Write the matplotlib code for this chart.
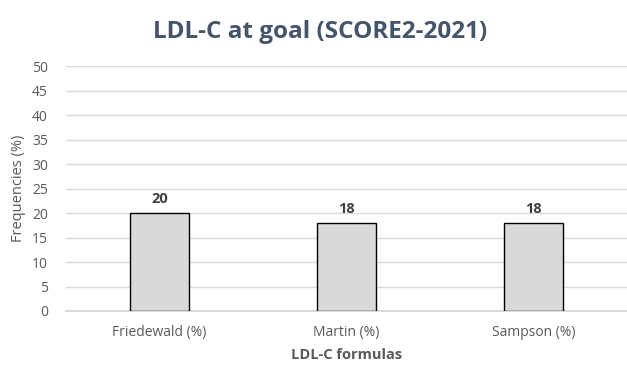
import matplotlib
matplotlib.use("Agg")
import matplotlib.pyplot as plt
import numpy as np

# data
formulas = ["Friedewald (%)", "Martin (%)", "Sampson (%)"]
freqs = [20, 18, 18]
yticks = [0, 5, 10, 15, 20, 25, 30, 35, 40, 45, 50]

plt.rcParams['font.family'] = ['Open Sans', 'DejaVu Sans']

fig = plt.figure(figsize=(6.27, 3.66), dpi=100)
ax = fig.add_axes([66 / 627, 1 - 311 / 366, 561 / 627, 245 / 366])

x = np.arange(len(formulas))
bars = ax.bar(x, freqs, width=0.315, color='#d9d9d9', edgecolor='#000000', linewidth=1.0, zorder=3)

for b, v in zip(bars, freqs):
    ax.annotate(str(v), (b.get_x() + b.get_width() / 2, v), xytext=(0, 5), textcoords='offset points',
                ha='center', va='bottom', fontsize=10.5, fontweight='bold', color='#404040')

ax.set_xlim(-0.5, len(formulas) - 0.5)
ax.set_ylim(0, 50)
ax.set_yticks(yticks)
ax.set_xticks(x)
ax.set_xticklabels(formulas)
ax.yaxis.grid(True, color='#d9d9d9', linewidth=1.0, zorder=0)
ax.set_axisbelow(True)
for s in ['top', 'right', 'left']:
    ax.spines[s].set_visible(False)
ax.spines['bottom'].set_color('#d9d9d9')
ax.spines['bottom'].set_linewidth(1.5)
ax.tick_params(axis='both', length=0, labelsize=10, labelcolor='#595959')
ax.tick_params(axis='y', pad=13)
ax.tick_params(axis='x', pad=10)

ax.set_ylabel("Frequencies (%)", fontsize=10.5, color='#595959', labelpad=4)
ax.set_xlabel("LDL-C formulas", fontsize=10.5, fontweight='bold', color='#595959', labelpad=6)

fig.text(0.51, 1 - 32 / 366, "LDL-C at goal (SCORE2-2021)", ha='center', va='center',
         fontsize=17.5, fontweight='bold', color='#44546a')

fig.savefig("out.png", dpi=100)
